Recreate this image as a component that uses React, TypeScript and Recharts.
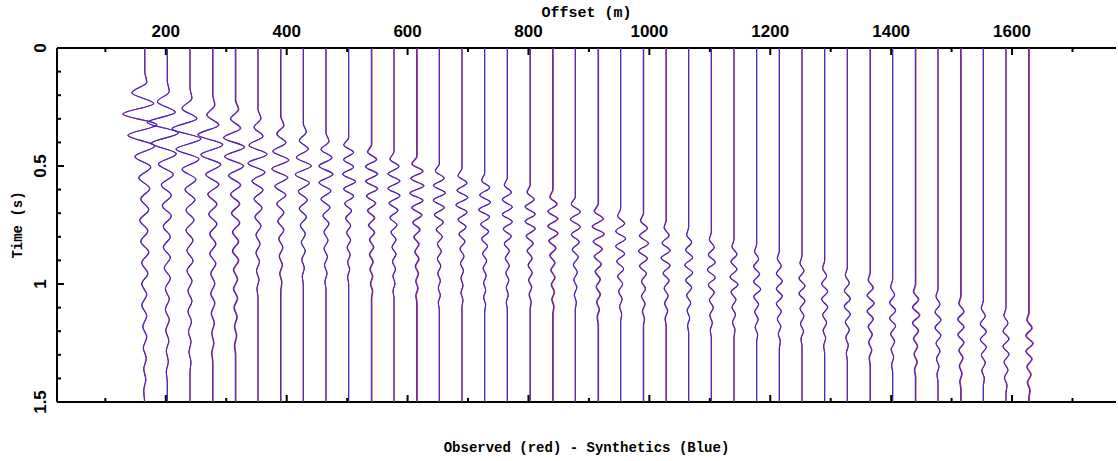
import React from 'react';
import { ScatterChart, Scatter, XAxis, YAxis } from 'recharts';

// ---------------- data ----------------
const OFFSETS = [
  165, 202.5, 240, 277.5, 315, 352.5, 390, 427.5, 465, 502.5,
  540, 577.5, 615, 652.5, 690, 727.5, 765, 802.5, 840, 877.5,
  915, 952.5, 990, 1027.5, 1065, 1102.5, 1140, 1177.5, 1215, 1252.5,
  1290, 1327.5, 1365, 1402.5, 1440, 1477.5, 1515, 1552.5, 1590, 1627.5,
];

// time (s) where each trace leaves its zero line
const ARRIVALS = [
  0.10, 0.14, 0.17, 0.20, 0.22, 0.26, 0.29, 0.32, 0.36, 0.38,
  0.41, 0.44, 0.46, 0.49, 0.51, 0.53, 0.55, 0.58, 0.60, 0.63,
  0.66, 0.68, 0.70, 0.73, 0.76, 0.78, 0.81, 0.83, 0.86, 0.88,
  0.90, 0.93, 0.95, 0.98, 1.00, 1.02, 1.05, 1.07, 1.10, 1.12,
];

// time between successive peaks / troughs of each trace (s)
const HALF_PERIODS = [
  0.045, 0.044, 0.043, 0.042, 0.040, 0.038, 0.037, 0.036, 0.035, 0.031,
  0.031, 0.031, 0.031, 0.031, 0.031, 0.031, 0.031, 0.031, 0.031, 0.032,
  0.032, 0.032, 0.032, 0.032, 0.032, 0.032, 0.032, 0.032, 0.032, 0.032,
  0.033, 0.033, 0.033, 0.033, 0.033, 0.033, 0.033, 0.033, 0.033, 0.033,
];

// synthetic trace amplitudes at successive peaks / troughs
const SYNTHETIC_AMPS: number[][] = [
  [2, -13, 9, -22, 12, -17, 10, -10, 6, -6, 5, -4, 4, -5, 3, -4, 4, -3, 3, -3, 2, -3, 2, -2, 2, -1.5, 1.5, -1, 1, -1],
  [2, -10, 8, -20, 11, -16, 9, -9, 6, -6, 4, -5, 4, -4, 3, -4, 3, -3, 3, -2, 2, -2, 2, -1.5, 1.5, -1, 1, -1],
  [2, -8, 7, -18, 11, -14, 9, -8, 6, -5, 5, -4, 4, -4, 3, -3, 3, -3, 2, -2, 2, -2, 1.5, -1.5, 1, -1, 1],
  [2, -6, 6, -15, 10, -12, 8, -7, 6, -5, 4, -4, 4, -3, 3, -3, 3, -2, 2, -2, 2, -1.5, 1.5, -1, 1, -1],
  [3, -5, 5, -12, 9, -11, 8, -7, 5, -5, 4, -4, 4, -3, 3, -3, 3, -2, 2, -2, 2, -1.5, 1.5, -1, 1, -1],
  [3, -4, 5, -9, 9, -10, 7, -6, 5, -4, 4, -3, 3, -2, 2, -2, 1.5, -1.5, 1, -1],
  [3, -4, 5, -8, 8, -9, 7, -6, 5, -4, 3, -3, 3, -2, 2, -1.5, 1.5, -1, 1],
  [3, -4, 5, -7, 8, -8, 6, -5, 4, -4, 3, -3, 2, -2, 2, -1.5, 1, -1],
  [3, -5, 6, -7, 7, -7, 5, -5, 4, -3, 3, -2, 2, -2, 1.5, -1.5, 1, -1],
  [-5, 5, -5, 5, -6, 7, -5, 5, -4, 3, -3, 2, -2, 2, -1.5, 1.5, -1, 1, -1],
  [-4, 5, -6, 6, -6, 6, -5, 4, -4, 3, -3, 3, -2, 2, -2, 1.5, -1.5, 1, -1, 1],
  [-4, 5, -6, 6, -6, 6, -5, 4, -4, 3, -3, 2, -2, 2, -1.5, 1.5, -1, 1, -1],
  [-5, 6, -6, 7, -7, 6, -5, 5, -4, 3, -3, 2, -2, 2, -1.5, 1.5, -1, 1, -1],
  [-4, 5, -6, 6, -6, 5, -5, 4, -3, 3, -2, 2, -2, 1.5, -1.5, 1, -1, 1, -1],
  [-4, 5, -5, 6, -6, 5, -4, 4, -3, 3, -2, 2, -1.5, 1.5, -1, 1, -1, 1],
  [-3, 5, -5, 6, -6, 5, -4, 4, -3, 3, -2, 2, -1.5, 1.5, -1, 1, -1, 1],
  [-3, 4, -5, 5, -5, 5, -4, 4, -3, 2, -2, 2, -1.5, 1.5, -1, 1, -1],
  [-3, 4, -5, 5, -5, 5, -4, 3, -3, 2, -2, 2, -1.5, 1.5, -1, 1],
  [-3, 4, -5, 5, -5, 5, -4, 3, -3, 2, -2, 2, -1.5, 1.5, -1, 1],
  [-4, 5, -5, 5, -4, 4, -3, 3, -2, 2, -1.5, 1.5, -1, 1],
  [-4, 5, -6, 6, -5, 4, -4, 3, -3, 2, -2, 2, -1.5, 1, -1],
  [-3, 4, -5, 5, -5, 4, -4, 3, -3, 2, -2, 1.5, -1, 1],
  [-3, 4, -4, 5, -5, 4, -4, 3, -2, 2, -2, 1.5, -1, 1],
  [-2, 3, -4, 4, -5, 4, -3, 3, -2, 2, -1.5, 1.5, -1],
  [-2, 3, -3, 4, -4, 4, -3, 3, -2, 2, -1.5, 1, -1],
  [-2, 3, -3, 4, -4, 4, -3, 3, -2, 2, -1.5, 1, -1],
  [-2, 3, -3, 3, -4, 4, -3, 2, -2, 1.5, -1.5, 1],
  [-2, 2, -3, 3, -3, 4, -3, 2, -2, 1.5, -1.5, 1],
  [-2, 2, -3, 3, -3, 3, -3, 2, -2, 1.5, -1, 1],
  [-2, 2, -3, 3, -3, 3, -2, 2, -1.5, 1.5, -1],
  [-2, 2, -3, 3, -3, 3, -2, 2, -1.5, 1, -1],
  [-2, 2, -3, 3, -3, 3, -2, 2, -1.5, 1, -1],
  [-2, 3, -3, 4, -3, 3, -2, 2, -1.5, 1.5, -1],
  [-2, 2, -3, 3, -3, 3, -2, 2, -1.5, 1, -1],
  [-2, 3, -3, 4, -3, 3, -2, 2, -1.5, 1.5, -1],
  [-2, 2, -3, 3, -3, 3, -2, 2, -1.5, 1, -1],
  [-2, 3, -3, 3, -3, 3, -2, 2, -1.5, 1, -1],
  [-2, 2, -3, 3, -3, 3, -2, 2, -1.5, 1],
  [-2, 2, -3, 3, -3, 3, -2, 2, -1.5, 1],
  [-2, 3, -3, 4, -3, 3, -2, 2, -1.5, 1],
];

// observed minus synthetic (constant misfit per trace)
const OBSERVED_SHIFT = [
  0.3, 0, 0, 0.4, 0.6, 0, 0.4, 0, 0, 0,
  0.6, 0, 0.6, 0, 0, 0, 0, 0.4, 0.6, 0,
  0.6, 0, 0.4, 0.3, 0, 0, 0, 0, 0, 0,
  0, 0, 0.5, 0, 0.6, 0, 0.6, 0, 0, 0.7,
];

const X_TICKS = [100, 200, 300, 400, 500, 600, 700, 800, 900, 1000, 1100, 1200, 1300, 1400, 1500, 1600, 1700];
const X_LABELS = [200, 400, 600, 800, 1000, 1200, 1400, 1600];
const Y_TICKS = [0, 0.1, 0.2, 0.3, 0.4, 0.5, 0.6, 0.7, 0.8, 0.9, 1, 1.1, 1.2, 1.3, 1.4, 1.5];
const Y_LABELS = [0, 0.5, 1, 1.5];

// ---------------- layout ----------------
const W = 1118;
const H = 461;
const PL = 57;
const PR = 1116;
const PT = 48;
const PB = 402;
const GAIN = 1.65; // metres of offset per amplitude unit
const BLUE = '#3328d8';
const RED = '#e3202a';
const NUM_FONT = "'Liberation Sans', Arial, sans-serif";
const TITLE_FONT = "'Liberation Mono', 'Courier New', monospace";

function buildTrace(i: number, shift: number) {
  const off = OFFSETS[i];
  const t0 = ARRIVALS[i];
  const hp = HALF_PERIODS[i];
  const amps = SYNTHETIC_AMPS[i];
  const s = shift * GAIN;
  const pts: { x: number; y: number }[] = [
    { x: off + s, y: 0 },
    { x: off + s, y: t0 },
  ];
  amps.forEach((a, k) => {
    const t = t0 + (k + 1) * hp;
    if (t < 1.49) pts.push({ x: off + s + a * GAIN, y: t });
  });
  const tEnd = t0 + (amps.length + 1) * hp;
  if (tEnd < 1.495) pts.push({ x: off + s, y: tEnd });
  pts.push({ x: off + s, y: 1.5 });
  return pts;
}

const SYN = OFFSETS.map((_, i) => buildTrace(i, 0));
const OBS = OFFSETS.map((_, i) => buildTrace(i, OBSERVED_SHIFT[i]));

const NoDot = () => <g />;

const isIn = (arr: number[], v: number) => arr.some((a) => Math.abs(a - v) < 1e-6);

const TopTick = (props: any) => {
  const { x, payload } = props;
  const v = payload.value;
  const major = isIn(X_LABELS, v);
  return (
    <g>
      <line x1={x} x2={x} y1={PT} y2={PT + (major ? 7 : 4)} stroke="#000" strokeWidth={2} />
      {major && (
        <text x={x} y={37} textAnchor="middle" fontFamily={NUM_FONT} fontWeight="bold" fontSize={17} fill="#000">
          {v}
        </text>
      )}
    </g>
  );
};

const BottomTick = (props: any) => {
  const { x, payload } = props;
  const major = isIn(X_LABELS, payload.value);
  return <line x1={x} x2={x} y1={PB} y2={PB - (major ? 7 : 4)} stroke="#000" strokeWidth={2} />;
};

const LeftTick = (props: any) => {
  const { y, payload } = props;
  const v = payload.value;
  const major = isIn(Y_LABELS, v);
  const lx = 46;
  return (
    <g>
      <line x1={PL} x2={PL + (major ? 7 : 4)} y1={y} y2={y} stroke="#000" strokeWidth={2} />
      {major && (
        <text
          x={lx}
          y={y}
          textAnchor="middle"
          transform={`rotate(-90 ${lx} ${y})`}
          fontFamily={NUM_FONT}
          fontWeight="bold"
          fontSize={17}
          fill="#000"
        >
          {String(v)}
        </text>
      )}
    </g>
  );
};

const RightTick = (props: any) => {
  const { y, payload } = props;
  const major = isIn(Y_LABELS, payload.value);
  return <line x1={PR} x2={PR - (major ? 7 : 4)} y1={y} y2={y} stroke="#000" strokeWidth={2} />;
};

const TopTitle = () => (
  <text x={(PL + PR) / 2} y={17} textAnchor="middle" fontFamily={TITLE_FONT} fontWeight="bold" fontSize={15} fill="#000">
    Offset (m)
  </text>
);

const BottomTitle = () => (
  <text x={(PL + PR) / 2} y={452} textAnchor="middle" fontFamily={TITLE_FONT} fontWeight="bold" fontSize={14} fill="#000">
    Observed (red) - Synthetics (Blue)
  </text>
);

const LeftTitle = () => {
  const cx = 22;
  const cy = (PT + PB) / 2;
  return (
    <text
      x={cx}
      y={cy}
      textAnchor="middle"
      transform={`rotate(-90 ${cx} ${cy})`}
      fontFamily={TITLE_FONT}
      fontWeight="bold"
      fontSize={14}
      fill="#000"
    >
      Time (s)
    </text>
  );
};

export default function App() {
  return (
    <div style={{ position: 'absolute', left: 0, top: 0, width: W, height: H, background: '#fff' }}>
      <ScatterChart width={W} height={H} margin={{ top: 0, right: W - PR, bottom: 0, left: 0 }}>
        <XAxis
          xAxisId="top"
          type="number"
          dataKey="x"
          orientation="top"
          height={PT}
          domain={[20, 1772]}
          allowDataOverflow
          ticks={X_TICKS}
          interval={0}
          tick={<TopTick />}
          tickLine={false}
          axisLine={{ stroke: '#000', strokeWidth: 2 }}
          label={<TopTitle />}
        />
        <XAxis
          xAxisId="bottom"
          type="number"
          dataKey="x"
          orientation="bottom"
          height={H - PB}
          domain={[20, 1772]}
          allowDataOverflow
          ticks={X_TICKS}
          interval={0}
          tick={<BottomTick />}
          tickLine={false}
          axisLine={{ stroke: '#000', strokeWidth: 2 }}
          label={<BottomTitle />}
        />
        <YAxis
          yAxisId="left"
          type="number"
          dataKey="y"
          orientation="left"
          width={PL}
          domain={[0, 1.5]}
          reversed
          allowDataOverflow
          ticks={Y_TICKS}
          interval={0}
          tick={<LeftTick />}
          tickLine={false}
          axisLine={{ stroke: '#000', strokeWidth: 2 }}
          label={<LeftTitle />}
        />
        <YAxis
          yAxisId="right"
          type="number"
          dataKey="y"
          orientation="right"
          width={0}
          domain={[0, 1.5]}
          reversed
          allowDataOverflow
          ticks={Y_TICKS}
          interval={0}
          tick={<RightTick />}
          tickLine={false}
          axisLine={{ stroke: '#000', strokeWidth: 2 }}
        />
        {OBS.map((d, i) => (
          <Scatter
            key={'obs' + i}
            xAxisId="top"
            yAxisId="left"
            data={d}
            fill={RED}
            line={{ stroke: RED, strokeWidth: 1.1 }}
            lineJointType="monotoneY"
            shape={NoDot}
            isAnimationActive={false}
          />
        ))}
        {SYN.map((d, i) => (
          <Scatter
            key={'syn' + i}
            xAxisId="top"
            yAxisId="left"
            data={d}
            fill={BLUE}
            line={{ stroke: BLUE, strokeWidth: 1.1 }}
            lineJointType="monotoneY"
            shape={NoDot}
            isAnimationActive={false}
          />
        ))}
      </ScatterChart>
    </div>
  );
}
